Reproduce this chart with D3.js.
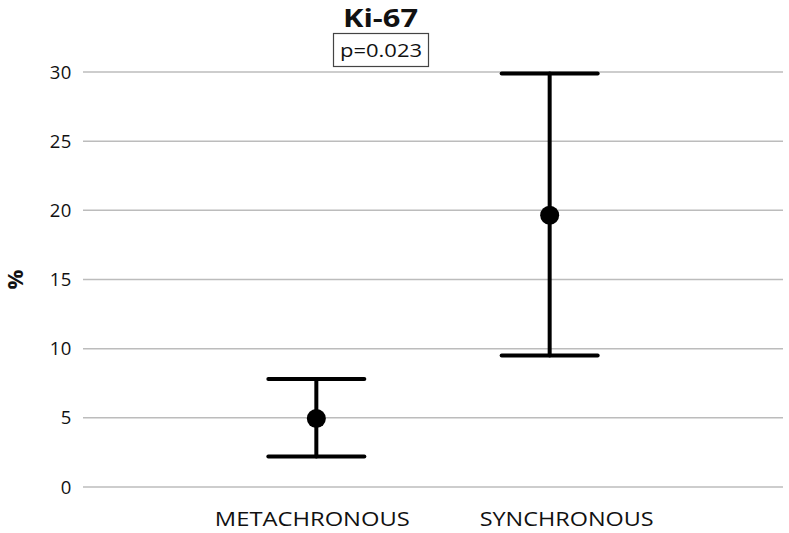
<!DOCTYPE html>
<html lang="en">
<head>
<meta charset="utf-8">
<title>Ki-67</title>
<script src="https://cdn.jsdelivr.net/npm/d3@7"></script>
<style>
  body { margin: 0; background: #fff; }
  text { font-family: "Open Sans", "Noto Sans", sans-serif; fill: #111; }
  .grid line { stroke: #bcbcbc; stroke-width: 1.5px; }
</style>
</head>
<body>
<div id="chart"></div>
<script>
// data
var groups = ["METACHRONOUS", "SYNCHRONOUS"];
var means = [4.95, 19.65];
var lower = [2.2, 9.5];
var upper = [7.8, 29.9];
var yTicks = [0, 5, 10, 15, 20, 25, 30];

var width = 789, height = 533;
var margin = {top: 72, right: 6, bottom: 46, left: 83};

var svg = d3.select("#chart").append("svg")
  .attr("width", width)
  .attr("height", height);

var x = d3.scalePoint()
  .domain(groups)
  .range([margin.left, width - margin.right])
  .padding(1);

var y = d3.scaleLinear()
  .domain([0, 30])
  .range([height - margin.bottom, margin.top]);

// gridlines
svg.append("g").attr("class", "grid")
  .selectAll("line")
  .data(yTicks)
  .enter().append("line")
  .attr("x1", margin.left)
  .attr("x2", width - margin.right)
  .attr("y1", function(d) { return y(d); })
  .attr("y2", function(d) { return y(d); });

// y tick labels
svg.append("g")
  .selectAll("text")
  .data(yTicks)
  .enter().append("text")
  .attr("x", margin.left - 11)
  .attr("y", function(d) { return y(d); })
  .attr("dy", "0.36em")
  .attr("text-anchor", "end")
  .style("font-size", "18.5px")
  .style("letter-spacing", "0.6px")
  .text(function(d) { return d; });

// y axis title
svg.append("text")
  .attr("transform", "translate(23," + y(15) + ") rotate(-90)")
  .attr("text-anchor", "middle")
  .style("font-size", "22px")
  .style("font-weight", 700)
  .text("%");

// category labels (text stretched to the widths seen in the picture)
var labelShift = [-4, 17];
var labelWidth = [195, 174];
svg.append("g")
  .selectAll("text")
  .data(groups)
  .enter().append("text")
  .attr("x", function(d, i) { return x(d) + labelShift[i] - labelWidth[i] / 2; })
  .attr("y", height - 7)
  .attr("textLength", function(d, i) { return labelWidth[i]; })
  .attr("lengthAdjust", "spacingAndGlyphs")
  .style("font-size", "20px")
  .text(function(d) { return d; });

// error bars
var capHalf = 48;
var bars = svg.append("g")
  .selectAll("g")
  .data(groups)
  .enter().append("g")
  .attr("stroke", "#000")
  .attr("stroke-width", 4)
  .attr("stroke-linecap", "round");

bars.append("line")
  .attr("x1", function(d) { return x(d); })
  .attr("x2", function(d) { return x(d); })
  .attr("y1", function(d, i) { return y(upper[i]); })
  .attr("y2", function(d, i) { return y(lower[i]); });

bars.append("line")
  .attr("x1", function(d) { return x(d) - capHalf; })
  .attr("x2", function(d) { return x(d) + capHalf; })
  .attr("y1", function(d, i) { return y(upper[i]); })
  .attr("y2", function(d, i) { return y(upper[i]); });

bars.append("line")
  .attr("x1", function(d) { return x(d) - capHalf; })
  .attr("x2", function(d) { return x(d) + capHalf; })
  .attr("y1", function(d, i) { return y(lower[i]); })
  .attr("y2", function(d, i) { return y(lower[i]); });

bars.append("circle")
  .attr("cx", function(d) { return x(d); })
  .attr("cy", function(d, i) { return y(means[i]); })
  .attr("r", 9.5)
  .attr("stroke", "none")
  .attr("fill", "#000");

// title and p-value box
svg.append("text")
  .attr("x", 343)
  .attr("y", 27)
  .attr("textLength", 75)
  .attr("lengthAdjust", "spacingAndGlyphs")
  .style("font-size", "25px")
  .style("font-weight", 700)
  .text("Ki-67");

svg.append("rect")
  .attr("x", 333.5)
  .attr("y", 33.5)
  .attr("width", 95)
  .attr("height", 33)
  .attr("fill", "#fff")
  .attr("stroke", "#444")
  .attr("stroke-width", 1.2);

svg.append("text")
  .attr("x", 340)
  .attr("y", 57)
  .attr("textLength", 82)
  .attr("lengthAdjust", "spacingAndGlyphs")
  .style("font-size", "19px")
  .text("p=0.023");
</script>
</body>
</html>
